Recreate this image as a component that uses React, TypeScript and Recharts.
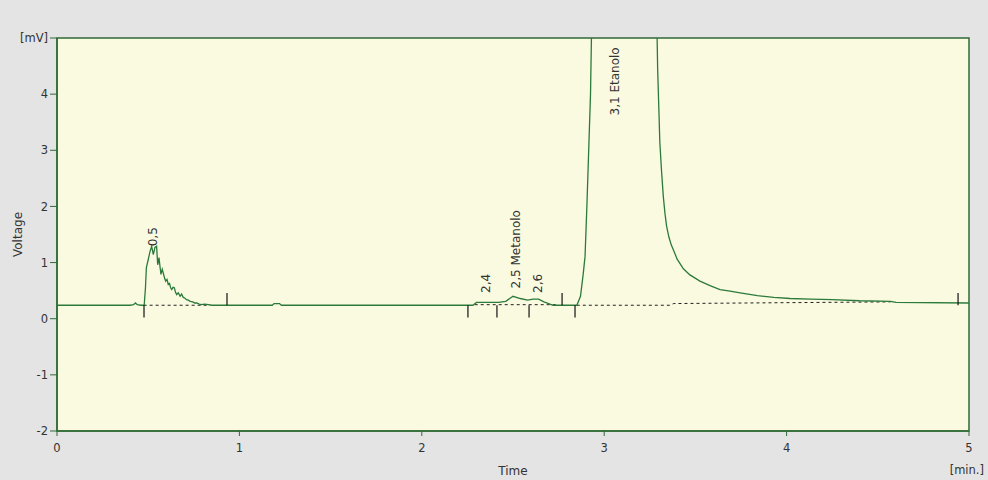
import React from "react";
import {
  ComposedChart,
  Line,
  Scatter,
  XAxis,
  YAxis,
  CartesianGrid,
  ReferenceLine,
  ReferenceArea,
  Label,
} from "recharts";

// signal trace, time in min, voltage in mV
const times = [
  0, 0.2, 0.4, 0.42, 0.43, 0.44, 0.46, 0.478, 0.485, 0.49, 0.5, 0.51, 0.519,
  0.528, 0.537, 0.546, 0.552, 0.559, 0.565, 0.57, 0.577, 0.583, 0.59, 0.596,
  0.603, 0.61, 0.617, 0.623, 0.629, 0.636, 0.643, 0.65, 0.656, 0.665, 0.675,
  0.683, 0.692, 0.7, 0.71, 0.72, 0.73, 0.745, 0.755, 0.766, 0.78, 0.79, 0.81,
  0.83, 0.85, 1.18, 1.19, 1.22, 1.23, 2.28, 2.3, 2.42, 2.46, 2.5, 2.54, 2.58,
  2.61, 2.64, 2.67, 2.72, 2.85, 2.87, 2.885, 2.895, 2.905, 2.915, 2.925, 2.935,
  3.1, 3.285, 3.293, 3.3, 3.305, 3.315, 3.324, 3.333, 3.342, 3.355, 3.367,
  3.379, 3.4, 3.434, 3.47, 3.525, 3.58, 3.635, 3.69, 3.745, 3.84, 3.93, 4.02,
  4.13, 4.25, 4.4, 4.57, 4.6, 5,
];
const voltage = [
  0.24, 0.24, 0.24, 0.25, 0.28, 0.25, 0.24, 0.24, 0.55, 0.91, 1.05, 1.2, 1.29,
  1.14, 1.27, 1.29, 0.96, 1.09, 0.92, 0.79, 0.88, 0.81, 0.72, 0.67, 0.7, 0.61,
  0.63, 0.55, 0.52, 0.56, 0.55, 0.47, 0.43, 0.46, 0.4, 0.44, 0.38, 0.37, 0.34,
  0.33, 0.31, 0.3, 0.28, 0.28, 0.26, 0.25, 0.26, 0.25, 0.24, 0.24, 0.27, 0.27,
  0.24, 0.24, 0.29, 0.29, 0.31, 0.4, 0.36, 0.33, 0.35, 0.35, 0.3, 0.24, 0.24,
  0.4, 0.8, 1.11, 2.0, 3.0, 4.0, 6.0, 30, 6.0, 4.45, 3.7, 3.14, 2.6, 2.18, 1.88,
  1.65, 1.45, 1.32, 1.23, 1.06, 0.89, 0.78, 0.67, 0.59, 0.52, 0.49, 0.46, 0.41,
  0.38, 0.36, 0.35, 0.34, 0.32, 0.31, 0.29, 0.28,
];

// integration baselines (dashed)
const baseA = [
  { t: 0.475, v: 0.24 },
  { t: 0.84, v: 0.24 },
];
const baseB = [
  { t: 2.29, v: 0.25 },
  { t: 2.75, v: 0.25 },
];
const baseC = [
  { t: 2.85, v: 0.24 },
  { t: 3.36, v: 0.24 },
  { t: 3.38, v: 0.27 },
  { t: 4.57, v: 0.3 },
];

// peak start / end markers
const markUp = [0.932, 2.769, 4.94];
const markDown = [0.477, 2.253, 2.412, 2.588, 2.84];

// peak labels
const peakT = [0.526, 2.352, 2.516, 2.637, 3.06];
const peakV = [1.29, 0.46, 0.54, 0.46, 3.62];
const peakNames = ["0,5", "2,4", "2,5 Metanolo", "2,6", "3,1 Etanolo"];

const yTicks = [-2, -1, 0, 1, 2, 3, 4, 5];
const xTicks = [0, 1, 2, 3, 4, 5];

const GREEN = "#2b7a3b";
const BORDER = "#2f6b36";
const FONT = "DejaVu Sans, Tahoma, sans-serif";

const trace = times.map((t, i) => ({ t, v: voltage[i] }));
const peaks = peakT.map((t, i) => ({ t, v: peakV[i], name: peakNames[i] }));

const PeakLabel = (props: any) => {
  const { cx, cy, payload } = props;
  return (
    <text
      x={cx}
      y={cy}
      transform={`rotate(-90 ${cx} ${cy})`}
      textAnchor="start"
      dominantBaseline="central"
      fontSize={12}
      fontFamily={FONT}
      fill="#333"
    >
      {payload.name}
    </text>
  );
};

export default function App() {
  return (
    <div
      style={{
        position: "absolute",
        left: 0,
        top: 0,
        width: 988,
        height: 480,
        background: "#e4e4e4",
      }}
    >
      <ComposedChart
        width={988}
        height={480}
        data={trace}
        margin={{ top: 38, right: 19, bottom: 0, left: 0 }}
      >
        <CartesianGrid
          horizontal={false}
          vertical={false}
          fill="#fafae1"
        />
        <XAxis
          type="number"
          dataKey="t"
          domain={[0, 5]}
          ticks={xTicks}
          height={49}
          axisLine={{ stroke: BORDER, strokeWidth: 1.5 }}
          tickLine={{ stroke: BORDER }}
          tickSize={5}
          tickMargin={8}
          tick={{ fontSize: 11.5, fontFamily: FONT, fill: "#333" }}
          allowDataOverflow
        >
          <Label
            value="Time"
            position="insideBottom"
            offset={5}
            style={{ fontSize: 12, fontFamily: FONT, fill: "#333" }}
          />
          <Label
            content={(p: any) => (
              <text
                x={p.viewBox.x + p.viewBox.width + 15}
                y={p.viewBox.y + 43}
                textAnchor="end"
                fontSize={11.5}
                fontFamily={FONT}
                fill="#333"
              >
                [min.]
              </text>
            )}
          />
        </XAxis>
        <YAxis
          type="number"
          domain={[-2, 5]}
          ticks={yTicks}
          width={57}
          allowDataOverflow
          axisLine={{ stroke: BORDER, strokeWidth: 1.5 }}
          tickLine={{ stroke: BORDER }}
          tickSize={7}
          tickMargin={2}
          tick={{ fontSize: 11.5, fontFamily: FONT, fill: "#333" }}
          tickFormatter={(v: number) => (v === 5 ? "[mV]" : String(v))}
        >
          <Label
            value="Voltage"
            angle={-90}
            position="insideLeft"
            offset={18}
            style={{
              fontSize: 12,
              fontFamily: FONT,
              fill: "#333",
              textAnchor: "middle",
            }}
          />
        </YAxis>
        <ReferenceArea
          x1={0}
          x2={5}
          y1={-2}
          y2={5}
          fill="none"
          stroke={BORDER}
          strokeWidth={1.5}
        />
        {[baseA, baseB, baseC].map((d, i) => (
          <Line
            key={"b" + i}
            data={d}
            dataKey="v"
            type="linear"
            stroke="#222"
            strokeWidth={1}
            strokeDasharray="3 3"
            dot={false}
            isAnimationActive={false}
          />
        ))}
        <Line
          dataKey="v"
          type="linear"
          stroke={GREEN}
          strokeWidth={1.3}
          dot={false}
          isAnimationActive={false}
        />
        {markUp.map((t) => (
          <ReferenceLine
            key={"u" + t}
            segment={[
              { x: t, y: 0.24 },
              { x: t, y: 0.46 },
            ]}
            stroke="#111"
            strokeWidth={1.2}
          />
        ))}
        {markDown.map((t) => (
          <ReferenceLine
            key={"d" + t}
            segment={[
              { x: t, y: 0.24 },
              { x: t, y: 0.02 },
            ]}
            stroke="#111"
            strokeWidth={1.2}
          />
        ))}
        <Scatter
          data={peaks}
          dataKey="v"
          shape={PeakLabel}
          isAnimationActive={false}
        />
      </ComposedChart>
    </div>
  );
}
